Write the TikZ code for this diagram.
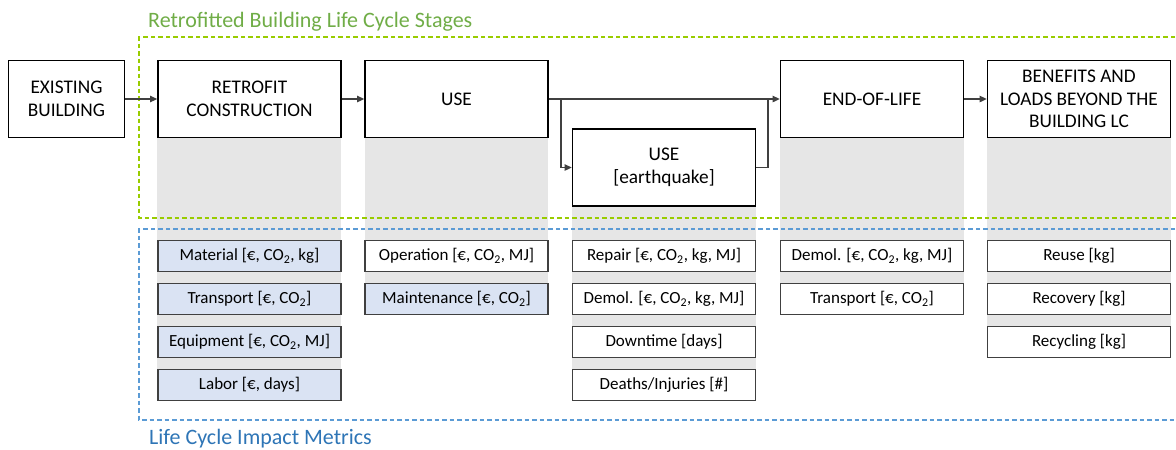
\documentclass[tikz,border=0pt]{standalone}
\usepackage{fontspec}
\setmainfont{Carlito}
\usetikzlibrary{arrows.meta}

\definecolor{titlegreen}{RGB}{112,173,71}
\definecolor{dashgreen}{RGB}{153,204,0}
\definecolor{titleblue}{RGB}{46,117,182}
\definecolor{dashblue}{RGB}{91,155,213}
\definecolor{boxblue}{RGB}{218,227,243}
\definecolor{colgray}{RGB}{230,230,230}
\definecolor{linegray}{RGB}{64,64,64}

\begin{document}
\begin{tikzpicture}[x=1pt,y=-1pt,
  stagebox/.style={draw=black, line width=1.8pt, fill=white,
    minimum width=183pt, minimum height=77pt, align=center, inner sep=2pt,
    font=\fontsize{19.3}{22.5}\selectfont},
  metric/.style={draw=linegray, line width=1.1pt, fill=white,
    minimum width=183pt, minimum height=31pt, inner sep=1pt,
    font=\fontsize{17}{20}\selectfont},
  metricblue/.style={metric, fill=boxblue},
  flow/.style={draw=linegray, line width=1.3pt},
  flowarrow/.style={flow, -{Triangle[length=7pt,width=6.5pt]}},
  column/.style={fill=colgray, draw=none},
  greenframe/.style={draw=dashgreen, line width=1.2pt, dash pattern=on 4.5pt off 3pt},
  blueframe/.style={draw=dashblue, line width=1.2pt, dash pattern=on 4.5pt off 3pt},
  caption/.style={anchor=base west, inner sep=0pt, font=\fontsize{22}{26}\selectfont}
]
\useasboundingbox (0,0) rectangle (1176,450);
\clip (0,0) rectangle (1176,450);

% grey bands joining each stage to its metrics
\fill[column] (157,138) rectangle (341,401);
\fill[column] (365,138) rectangle (548,315);
\fill[column] (572,207) rectangle (756,401);
\fill[column] (780,138) rectangle (964,315);
\fill[column] (987,138) rectangle (1171,358);

% dashed group frames
\draw[greenframe] (1190,37) -- (139,37) -- (139,218) -- (1190,218);
\draw[blueframe] (1190,229) -- (139,229) -- (139,420) -- (1190,420);

\node[caption, text=titlegreen] (stagesTitle) at (148,27) {Retrofitted Building Life Cycle Stages};
\node[caption, text=titleblue] (metricsTitle) at (149,444) {Life Cycle Impact Metrics};

% life cycle stages
\node[stagebox, minimum width=116pt] (ex) at (66.5,99) {EXISTING\\BUILDING};
\node[stagebox] (rc) at (249.5,99) {RETROFIT\\CONSTRUCTION};
\node[stagebox] (use) at (456.5,99) {USE};
\node[stagebox] (eq) at (664,167.5) {USE\\{}[earthquake]};
\node[stagebox] (eol) at (872,99) {END-OF-LIFE};
\node[stagebox] (ben) at (1079,99) {BENEFITS AND\\LOADS BEYOND THE\\BUILDING LC};

% connectors
\coordinate (split) at (561,99);
\coordinate (join) at (768,99);
\draw[flowarrow] (ex) -- (rc);
\draw[flowarrow] (rc) -- (use);
\draw[flowarrow] (use) -- (eol);
\draw[flowarrow] (split) |- (eq.west);
\draw[flow] (eq.east) -| (join);
\draw[flowarrow] (eol) -- (ben);

% impact metrics
\node[metricblue] (m1) at (249.5,256) {Material [€, CO\textsubscript{2}, kg]};
\node[metricblue] (m2) at (249.5,299) {Transport [€, CO\textsubscript{2}]};
\node[metricblue] (m3) at (249.5,342) {Equipment [€, CO\textsubscript{2}, MJ]};
\node[metricblue] (m4) at (249.5,385) {Labor [€, days]};

\node[metric] (u1) at (456.5,256) {Operation [€, CO\textsubscript{2}, MJ]};
\node[metricblue] (u2) at (456.5,299) {Maintenance [€, CO\textsubscript{2}]};

\node[metric] (q1) at (664,256) {Repair [€, CO\textsubscript{2}, kg, MJ]};
\node[metric] (q2) at (664,299) {Demol. [€, CO\textsubscript{2}, kg, MJ]};
\node[metric] (q3) at (664,342) {Downtime [days]};
\node[metric] (q4) at (664,385) {Deaths/Injuries [\#]};

\node[metric] (e1) at (872,256) {Demol. [€, CO\textsubscript{2}, kg, MJ]};
\node[metric] (e2) at (872,299) {Transport [€, CO\textsubscript{2}]};

\node[metric] (b1) at (1079,256) {Reuse [kg]};
\node[metric] (b2) at (1079,299) {Recovery [kg]};
\node[metric] (b3) at (1079,342) {Recycling [kg]};
\end{tikzpicture}
\end{document}
